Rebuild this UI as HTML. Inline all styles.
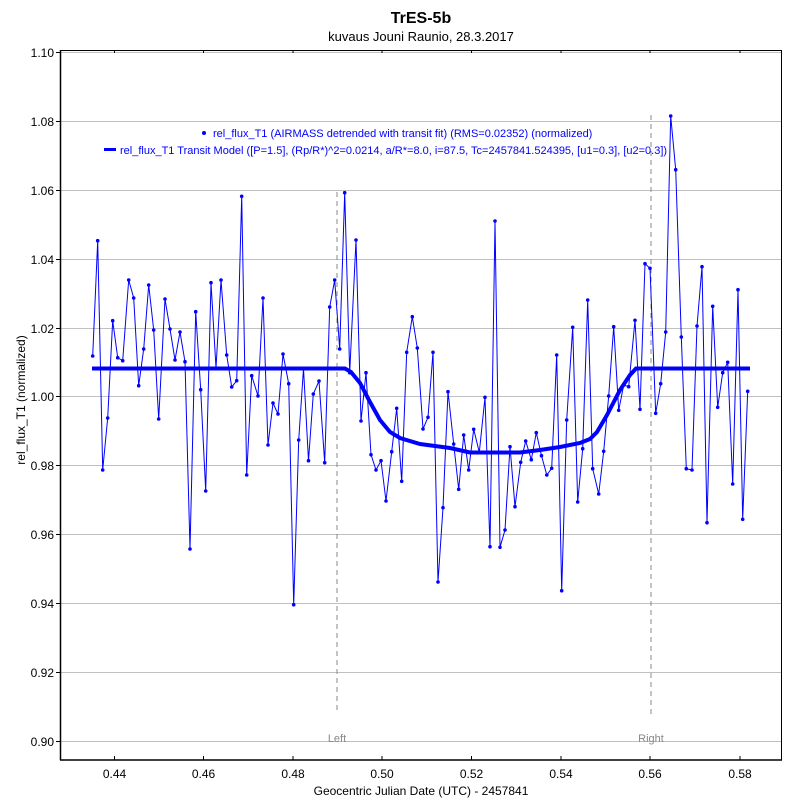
<!DOCTYPE html>
<html><head><meta charset="utf-8"><style>
body{margin:0;background:#fff;width:800px;height:800px;overflow:hidden}
text{font-family:"Liberation Sans",sans-serif}
</style></head><body>
<svg width="800" height="800" xmlns="http://www.w3.org/2000/svg">
<rect width="800" height="800" fill="#fff"/>
<text x="421" y="23" font-size="16" font-weight="bold" text-anchor="middle">TrES-5b</text>
<text x="421" y="41" font-size="13" text-anchor="middle">kuvaus Jouni Raunio, 28.3.2017</text>
<g stroke="#c0c0c0" stroke-width="1">
<line x1="61" x2="781" y1="52.5" y2="52.5"/><line x1="61" x2="781" y1="121.5" y2="121.5"/>
<line x1="61" x2="781" y1="190.5" y2="190.5"/><line x1="61" x2="781" y1="259.5" y2="259.5"/>
<line x1="61" x2="781" y1="328.5" y2="328.5"/><line x1="61" x2="781" y1="396.5" y2="396.5"/>
<line x1="61" x2="781" y1="465.5" y2="465.5"/><line x1="61" x2="781" y1="534.5" y2="534.5"/>
<line x1="61" x2="781" y1="603.5" y2="603.5"/><line x1="61" x2="781" y1="672.5" y2="672.5"/>
<line x1="61" x2="781" y1="741.5" y2="741.5"/>
</g>
<rect x="60.5" y="50.5" width="721" height="709.5" fill="none" stroke="#000" stroke-width="1"/>
<line x1="60.5" x2="60.5" y1="50" y2="760" stroke="#000" stroke-width="1.5"/>
<line x1="60" x2="782" y1="760" y2="760" stroke="#000" stroke-width="1.5"/>
<g stroke="#000"><line x1="56" x2="61" y1="52.5" y2="52.5"/><line x1="56" x2="61" y1="121.5" y2="121.5"/><line x1="56" x2="61" y1="190.5" y2="190.5"/><line x1="56" x2="61" y1="259.5" y2="259.5"/><line x1="56" x2="61" y1="328.5" y2="328.5"/><line x1="56" x2="61" y1="396.5" y2="396.5"/><line x1="56" x2="61" y1="465.5" y2="465.5"/><line x1="56" x2="61" y1="534.5" y2="534.5"/><line x1="56" x2="61" y1="603.5" y2="603.5"/><line x1="56" x2="61" y1="672.5" y2="672.5"/><line x1="56" x2="61" y1="741.5" y2="741.5"/>
<line x1="114.5" x2="114.5" y1="756" y2="760"/><line x1="203.5" x2="203.5" y1="756" y2="760"/><line x1="293" x2="293" y1="756" y2="760"/><line x1="382" x2="382" y1="756" y2="760"/><line x1="471.5" x2="471.5" y1="756" y2="760"/><line x1="561" x2="561" y1="756" y2="760"/><line x1="650" x2="650" y1="756" y2="760"/><line x1="740" x2="740" y1="756" y2="760"/>
<line x1="114.5" x2="114.5" y1="50" y2="53"/><line x1="203.5" x2="203.5" y1="50" y2="53"/><line x1="293" x2="293" y1="50" y2="53"/><line x1="382" x2="382" y1="50" y2="53"/><line x1="471.5" x2="471.5" y1="50" y2="53"/><line x1="561" x2="561" y1="50" y2="53"/><line x1="650" x2="650" y1="50" y2="53"/><line x1="740" x2="740" y1="50" y2="53"/></g>
<g font-size="12" text-anchor="end">
<text x="54" y="57">1.10</text><text x="54" y="126">1.08</text><text x="54" y="195">1.06</text><text x="54" y="264">1.04</text><text x="54" y="333">1.02</text><text x="54" y="401">1.00</text><text x="54" y="470">0.98</text><text x="54" y="539">0.96</text><text x="54" y="608">0.94</text><text x="54" y="677">0.92</text><text x="54" y="746">0.90</text></g>
<g font-size="12" text-anchor="middle">
<text x="114.5" y="778">0.44</text><text x="203.5" y="778">0.46</text><text x="293" y="778">0.48</text><text x="382" y="778">0.50</text><text x="471.5" y="778">0.52</text><text x="561" y="778">0.54</text><text x="650" y="778">0.56</text><text x="740" y="778">0.58</text></g>
<text x="421" y="795" font-size="12" text-anchor="middle">Geocentric Julian Date (UTC) - 2457841</text>
<text x="25" y="400" font-size="12" text-anchor="middle" transform="rotate(-90 25 400)">rel_flux_T1 (normalized)</text>
<g stroke="#888" stroke-dasharray="5,4" stroke-width="1"><line x1="337" x2="337" y1="192" y2="714"/><line x1="651" x2="651" y1="115" y2="714"/></g>
<text x="337" y="742" font-size="11" fill="#888" text-anchor="middle">Left</text>
<text x="651" y="742" font-size="11" fill="#888" text-anchor="middle">Right</text>
<g font-size="11" fill="#0000ff">
<circle cx="204" cy="133" r="2" fill="#0000ff"/>
<text x="213" y="137">rel_flux_T1 (AIRMASS detrended with transit fit) (RMS=0.02352) (normalized)</text>
<rect x="104" y="148" width="12" height="3" fill="#0000ff"/>
<text x="120" y="154">rel_flux_T1 Transit Model ([P=1.5], (Rp/R*)^2=0.0214, a/R*=8.0, i=87.5, Tc=2457841.524395, [u1=0.3], [u2=0.3])</text>
</g>
<polyline fill="none" stroke="#0000ff" stroke-width="4" points="92,368.5 345,368.5 351,372 360,383 370,402 380,420 390,432 400,438 420,444 450,448 470,452.5 520,452.5 540,450 560,447 580,443 590,439 597,432 607,415 620,390 630,375 636,368.5 750,368.5"/>
<polyline id="d" fill="none" stroke="#0000ff" stroke-width="1" points="92.7,356 97.7,240.7 102.7,470 107.7,418 112.7,320.7 117.7,357.7 122.7,360.7 128.7,280 133.7,298 138.7,385.7 143.7,349 148.7,285 153.7,330 158.7,419 165,299 170,329 175,360 180,332 185,361.7 190,549 195.7,311.7 200.7,389.7 205.7,491 211,282.7 216,368 221,280 226.7,355 231.7,387 236.7,380.7 241.7,196.3 246.7,475 251.7,375.7 258,396 263,298 268,445 273,403 278,414 283,354 288.7,383.7 293.7,604.7 298.7,440 303.5,368.5 308.5,460.7 313.3,394 319,381 324.7,462.7 329.7,307 334.7,280 339.7,349 344.7,192.7 349.7,372.7 356,240 361,421 366,372.7 371,454.7 376,470 381,460.7 386,501 391.7,451.7 396.7,408.3 401.7,481.3 406.7,352.3 412.3,316.7 417.3,348 423,429 428,417.3 433,352.3 438,582 443,507.7 448,391.7 453.7,444 458.7,489.3 463.7,435 468.7,470 473.7,429.3 479.3,452.3 485,397.3 490,546.7 495,221 500,547.3 505,530 510,446.7 515,506.7 520.7,462.3 525.7,441 531.3,459.7 536.3,432.7 541.5,455.7 546.8,475 551.7,468.3 556.7,355 561.7,590.7 566.7,420 572.7,327.3 577.7,502 582.7,448.7 587.7,300 592.7,468.7 598.7,494 603.7,451.3 608.7,396 613.7,326.7 618.7,410.3 623.7,385 628.7,386.7 635,320.3 640,409.3 645,263.7 650,268.3 655.7,413.3 660.7,383.7 665.7,332 670.7,116 675.7,169.7 681.3,337 686.3,468.7 692,470 697,326 702,266.7 707,522.7 712.7,306.3 717.7,407.3 722.7,372.7 727.7,362.3 732.7,484 738,289.7 742.7,519.3 747.7,391.3"/>
</svg>
<script>
(function(){var p=document.getElementById('d').getAttribute('points').trim().split(/\s+/);var s=document.querySelector('svg');
p.forEach(function(q){var a=q.split(',');var c=document.createElementNS('http://www.w3.org/2000/svg','circle');c.setAttribute('cx',a[0]);c.setAttribute('cy',a[1]);c.setAttribute('r','1.8');c.setAttribute('fill','#0000ff');s.appendChild(c);});})();
</script>
</body></html>
